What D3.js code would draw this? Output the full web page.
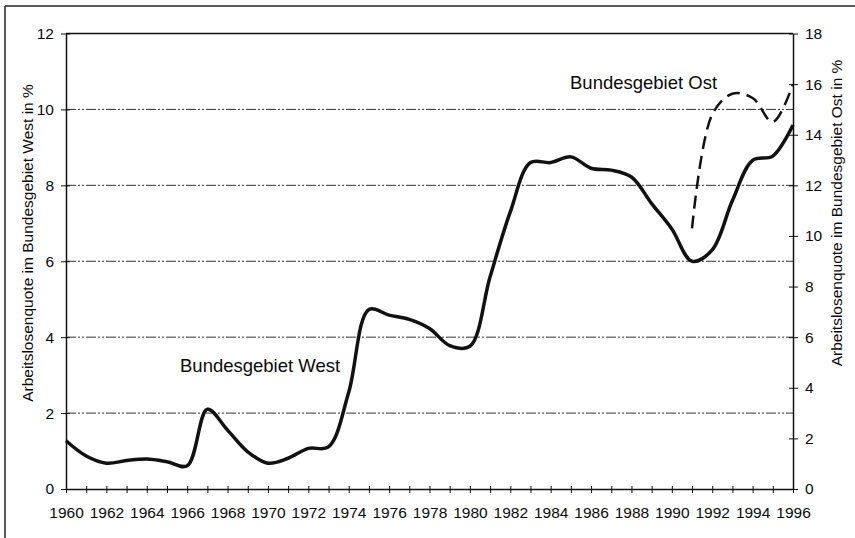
<!DOCTYPE html>
<html>
<head>
<meta charset="utf-8">
<script src="https://cdn.jsdelivr.net/npm/d3@7"></script>
<style>
  body { margin: 0; background: #fff; }
  svg { display: block; font-family: "Liberation Sans", Arial, sans-serif; }
  .axis path, .axis line { stroke: #111; }
  .axis text { fill: #0a0a0a; font-size: 15.5px; }
</style>
</head>
<body>
<div id="chart"></div>
<script>
// Data
const years = d3.range(1960, 1997);
const west = [1.27, 0.87, 0.68, 0.75, 0.79, 0.72, 0.61, 2.1, 1.55, 0.98,
              0.68, 0.81, 1.07, 1.11, 2.55, 4.73, 4.58, 4.47, 4.23, 3.78,
              3.76, 5.59, 7.3, 8.6, 8.6, 8.75, 8.45, 8.4, 8.22, 7.52,
              6.85, 6.0, 6.3, 7.6, 8.66, 8.77, 9.59];
const eastYears = [1991, 1992, 1993, 1994, 1995, 1996];
const east = [10.3, 14.8, 15.62, 15.45, 14.5, 16.0];
const leftTicks = [0, 2, 4, 6, 8, 10, 12];
const rightTicks = [0, 2, 4, 6, 8, 10, 12, 14, 16, 18];
const gridValues = [2, 4, 6, 8, 10];

const W = 855, H = 538;
const margin = { top: 33.5, right: 62, bottom: 49, left: 66 };
const width = W - margin.left - margin.right;
const height = H - margin.top - margin.bottom;

const root = d3.select('#chart').append('svg')
    .attr('width', W)
    .attr('height', H);

// outer frame (scanned page border)
root.append('line').attr('x1', 5).attr('y1', 6).attr('x2', W).attr('y2', 6)
    .attr('stroke', '#222').attr('stroke-width', 1.5);
root.append('line').attr('x1', 5).attr('y1', 6).attr('x2', 5).attr('y2', H)
    .attr('stroke', '#222').attr('stroke-width', 1.5);

const svg = root.append('g')
    .attr('transform', `translate(${margin.left},${margin.top})`);

// Scales
const x = d3.scaleLinear().domain([1960, 1996]).range([0, width]);
const yL = d3.scaleLinear().domain([0, 12]).range([height, 0]);
const yR = d3.scaleLinear().domain([0, 18]).range([height, 0]);

// Grid lines
svg.append('g')
    .selectAll('line')
    .data(gridValues)
    .enter()
    .append('line')
    .attr('x1', 0)
    .attr('x2', width)
    .attr('y1', d => yL(d))
    .attr('y2', d => yL(d))
    .attr('stroke', '#333')
    .attr('stroke-width', 1)
    .attr('stroke-dasharray', '10,2,2,2,2,2');

// top border of plot
svg.append('line')
    .attr('x1', 0).attr('x2', width)
    .attr('y1', yL(12)).attr('y2', yL(12))
    .attr('stroke', '#111').attr('stroke-width', 1.5);

// Axes
const axL = svg.append('g')
    .attr('class', 'axis')
    .call(d3.axisLeft(yL).tickValues(leftTicks).tickSize(5).tickPadding(7).tickSizeOuter(0));
axL.selectAll('.tick line').attr('x1', 4);

const axR = svg.append('g')
    .attr('class', 'axis')
    .attr('transform', `translate(${width},0)`)
    .call(d3.axisRight(yR).tickValues(rightTicks).tickSize(5).tickPadding(7).tickSizeOuter(0));
axR.selectAll('.tick line').attr('x1', -4);

const axB = svg.append('g')
    .attr('class', 'axis')
    .attr('transform', `translate(0,${height})`)
    .call(d3.axisBottom(x).tickValues(years).tickSize(4).tickPadding(14).tickSizeOuter(0)
        .tickFormat(d => d % 2 === 0 ? String(d) : ''));
axB.selectAll('.tick line').attr('y1', -3);

svg.selectAll('.axis path').attr('stroke-width', 1.5);

// axis titles
root.append('text')
    .attr('transform', `translate(33,243) rotate(-90)`)
    .attr('text-anchor', 'middle')
    .style('font-size', '15.5px')
    .attr('fill', '#0a0a0a')
    .text('Arbeitslosenquote im Bundesgebiet West in %');

root.append('text')
    .attr('transform', `translate(842,213) rotate(-90)`)
    .attr('text-anchor', 'middle')
    .style('font-size', '15.5px')
    .attr('fill', '#0a0a0a')
    .text('Arbeitslosenquote im Bundesgebiet Ost in %');

// Lines
const lineW = d3.line()
    .x((d, i) => x(years[i]))
    .y(d => yL(d))
    .curve(d3.curveCatmullRom.alpha(0.5));

svg.append('path')
    .datum(west)
    .attr('d', lineW)
    .attr('fill', 'none')
    .attr('stroke', '#111')
    .attr('stroke-width', 3.5)
    .attr('stroke-linejoin', 'round');

const lineE = d3.line()
    .x((d, i) => x(eastYears[i]))
    .y(d => yR(d))
    .curve(d3.curveCatmullRom.alpha(0.5));

svg.append('path')
    .datum(east)
    .attr('d', lineE)
    .attr('fill', 'none')
    .attr('stroke', '#111')
    .attr('stroke-width', 2.5)
    .attr('stroke-dasharray', '13,7');

// series labels
root.append('text')
    .attr('x', 180).attr('y', 371.5)
    .style('font-size', '18.5px')
    .attr('fill', '#0a0a0a')
    .text('Bundesgebiet West');

root.append('text')
    .attr('x', 570).attr('y', 88.5)
    .style('font-size', '18.5px')
    .attr('fill', '#0a0a0a')
    .text('Bundesgebiet Ost');
</script>
</body>
</html>
